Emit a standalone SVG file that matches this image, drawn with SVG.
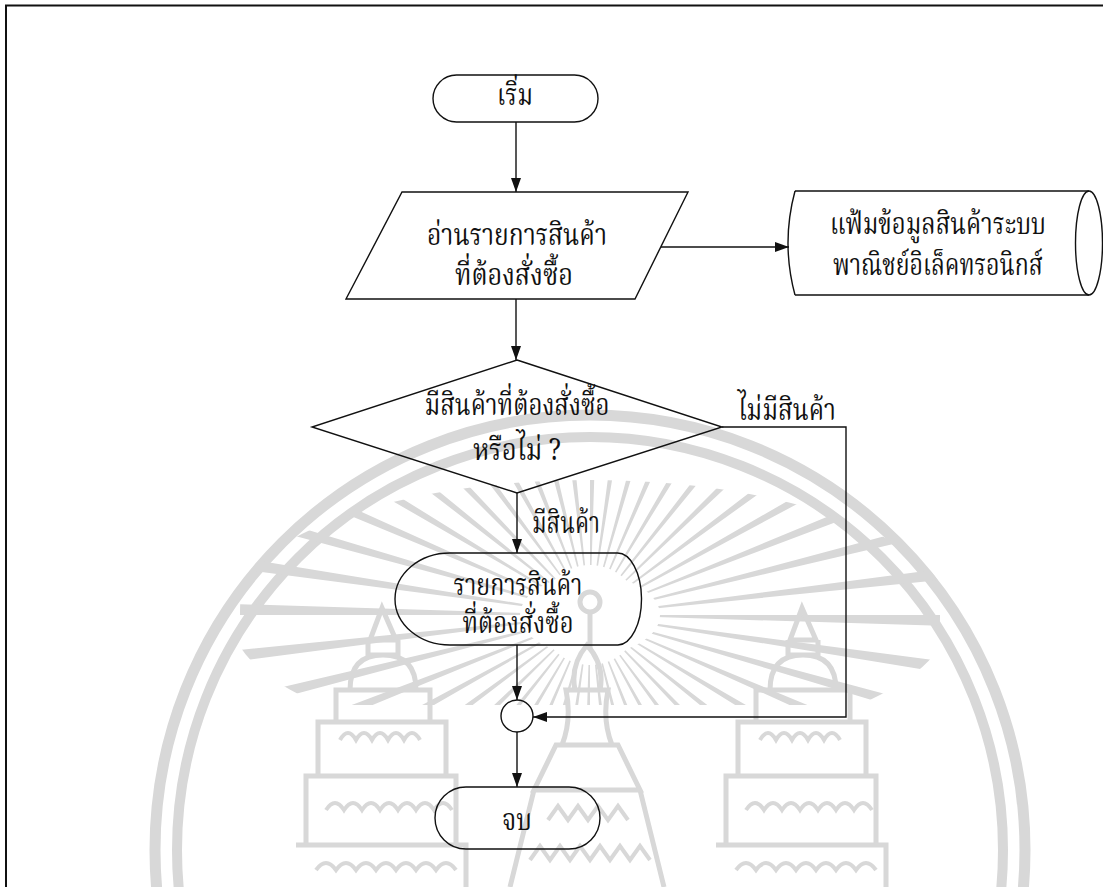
<svg xmlns="http://www.w3.org/2000/svg" width="1103" height="887" viewBox="0 0 1103 887">
<defs>
<style>
.sh{fill:none;stroke:#111;stroke-width:1.4;}
.cn{fill:none;stroke:#111;stroke-width:1.4;}
.t{font-family:'Noto Serif Thai','Liberation Serif',serif;font-size:30px;fill:#111;text-anchor:middle;}
.wm{fill:none;stroke:#d8d8d8;}
</style>
<marker id="ah" viewBox="0 0 14 10" refX="14" refY="5" markerWidth="14" markerHeight="10" markerUnits="userSpaceOnUse" orient="auto">
<path d="M0,0 L14,5 L0,10 z" fill="#111"/>
</marker>
<clipPath id="rayclip" clip-rule="evenodd">
<path clip-rule="evenodd" d="M230,615 a360,135 0 1,0 720,0 a360,135 0 1,0 -720,0 z M520,615 a70,40 0 1,0 140,0 a70,40 0 1,0 -140,0 z"/>
</clipPath>
<clipPath id="topclip"><rect x="0" y="0" width="1103" height="705"/></clipPath>
</defs>

<g id="watermark">
<circle class="wm" cx="590" cy="850" r="435" stroke-width="11"/>
<circle class="wm" cx="590" cy="850" r="413" stroke-width="10"/>
<g clip-path="url(#topclip)">
<g clip-path="url(#rayclip)">
<circle class="wm" cx="590" cy="615" r="200" stroke-width="300" pathLength="480" stroke-dasharray="2.4 7.6"/>
</g>
</g>
<circle class="wm" cx="590" cy="602" r="10" stroke-width="5"/>
<path class="wm" stroke-width="5" d="M590,612 V650"/>
<g id="wm-left-tower">
<path class="wm" stroke-width="5" d="M382,608 L370,640 L396,640 Z M368,640 V655 H398 V640 M350,690 Q350,655 383,655 Q416,655 416,690 Z M336,690 H430 V722 H336 Z M318,722 H446 V776 H318 Z M306,776 H456 V845 H306 Z M296,845 H466 V887"/>
<path class="wm" stroke-width="4" d="M340,740 q8,-14 16,0 q8,-14 16,0 q8,-14 16,0 q8,-14 16,0 q8,-14 16,0 M326,810 q9,-14 18,0 q9,-14 18,0 q9,-14 18,0 q9,-14 18,0 q9,-14 18,0 q9,-14 18,0 q9,-14 18,0 M316,870 q10,-14 20,0 q10,-14 20,0 q10,-14 20,0 q10,-14 20,0 q10,-14 20,0 q10,-14 20,0 q10,-14 20,0"/>
</g>
<g id="wm-right-tower">
<path class="wm" stroke-width="5" d="M802,608 L790,640 L816,640 Z M788,640 V655 H818 V640 M770,690 Q770,655 803,655 Q836,655 836,690 Z M756,690 H850 V722 H756 Z M738,722 H866 V776 H738 Z M726,776 H876 V845 H726 Z M716,845 H886 V887"/>
<path class="wm" stroke-width="4" d="M760,740 q8,-14 16,0 q8,-14 16,0 q8,-14 16,0 q8,-14 16,0 q8,-14 16,0 M746,810 q9,-14 18,0 q9,-14 18,0 q9,-14 18,0 q9,-14 18,0 q9,-14 18,0 q9,-14 18,0 q9,-14 18,0 M736,870 q10,-14 20,0 q10,-14 20,0 q10,-14 20,0 q10,-14 20,0 q10,-14 20,0 q10,-14 20,0 q10,-14 20,0"/>
</g>
<g id="wm-center-spire">
<path class="wm" stroke-width="5" d="M587,645 Q570,665 575,690 H600 Q605,665 587,645 Z M566,690 H608 Q602,720 612,745 H562 Q572,720 566,690 Z M556,745 H618 L640,790 H534 Z M534,790 L510,887 M640,790 L664,887"/>
<path class="wm" stroke-width="4" d="M548,820 l10,-14 l10,14 l10,-14 l10,14 l10,-14 l10,14 l10,-14 l10,14 M530,860 l10,-14 l10,14 l10,-14 l10,14 l10,-14 l10,14 l10,-14 l10,14 l10,-14 l10,14 l10,-14 l10,14"/>
</g>
</g>

<g id="frame">
<path d="M5,5.5 H1103 M6,5 V887" fill="none" stroke="#111" stroke-width="2"/>
</g>

<g id="connectors">
<path class="cn" d="M516,122 V192" marker-end="url(#ah)"/>
<path class="cn" d="M661,247 H789" marker-end="url(#ah)"/>
<path class="cn" d="M516,299 V360" marker-end="url(#ah)"/>
<path class="cn" d="M517,493 V553" marker-end="url(#ah)"/>
<path class="cn" d="M722,427 H846 V717 H533" marker-end="url(#ah)"/>
<path class="cn" d="M517,645 V700" marker-end="url(#ah)"/>
<path class="cn" d="M517,732 V787" marker-end="url(#ah)"/>
<text class="t" x="787" y="420" textLength="98" lengthAdjust="spacingAndGlyphs">ไม่มีสินค้า</text>
<text class="t" x="566" y="533" textLength="68" lengthAdjust="spacingAndGlyphs">มีสินค้า</text>
</g>

<g id="start">
<rect class="sh" x="433" y="75" width="165" height="47" rx="23.5" ry="23.5"/>
<text class="t" x="515" y="105" textLength="36" lengthAdjust="spacingAndGlyphs">เริ่ม</text>
</g>

<g id="read-input">
<path class="sh" d="M402,192 L688,192 L635,299 L346,299 Z"/>
<text class="t" x="517" y="245" textLength="180" lengthAdjust="spacingAndGlyphs">อ่านรายการสินค้า</text>
<text class="t" x="514" y="285" textLength="118" lengthAdjust="spacingAndGlyphs">ที่ต้องสั่งซื้อ</text>
</g>

<g id="product-file">
<path class="sh" d="M795,191 H1089 M795,295 H1089 M795,191 Q781,243 795,295"/>
<ellipse class="sh" cx="1089" cy="243" rx="13.5" ry="52"/>
<text class="t" x="938" y="234" textLength="216" lengthAdjust="spacingAndGlyphs">แฟ้มข้อมูลสินค้าระบบ</text>
<text class="t" x="938" y="275" textLength="210" lengthAdjust="spacingAndGlyphs">พาณิชย์อิเล็คทรอนิกส์</text>
</g>

<g id="decision">
<path class="sh" d="M517,360 L722,427 L517,493 L312,427 Z"/>
<text class="t" x="517" y="415" textLength="185" lengthAdjust="spacingAndGlyphs">มีสินค้าที่ต้องสั่งซื้อ</text>
<text class="t" x="517" y="460" textLength="88" lengthAdjust="spacingAndGlyphs">หรือไม่ ?</text>
</g>

<g id="display">
<path class="sh" d="M450,553 H617 A24,46 0 0,1 618,645 H450 A55,46 0 0,1 450,553 Z"/>
<text class="t" x="518" y="595" textLength="129" lengthAdjust="spacingAndGlyphs">รายการสินค้า</text>
<text class="t" x="518" y="633" textLength="111" lengthAdjust="spacingAndGlyphs">ที่ต้องสั่งซื้อ</text>
</g>

<g id="connector-point">
<circle class="sh" cx="517" cy="716" r="16"/>
</g>

<g id="end">
<rect class="sh" x="435" y="787" width="165" height="62" rx="31" ry="31"/>
<text class="t" x="517" y="830" textLength="30" lengthAdjust="spacingAndGlyphs">จบ</text>
</g>
</svg>
